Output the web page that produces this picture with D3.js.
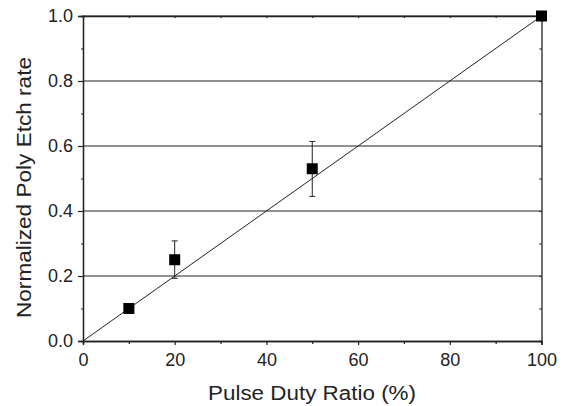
<!DOCTYPE html>
<html><head><meta charset="utf-8">
<script src="https://cdn.jsdelivr.net/npm/d3@7/dist/d3.min.js"></script>
<style>body{margin:0;background:#fff}svg{display:block}text{font-family:"Liberation Sans",Arial,sans-serif;fill:#222}</style>
</head><body><svg id="c" width="564" height="406"></svg>
<script>
const dutyRatio = [10, 20, 50, 100];
const etchRate = [0.10, 0.25, 0.53, 1.0];
const errLow = [null, 0.193, 0.445, null];
const errHigh = [null, 0.308, 0.614, null];
const xTicks = [0, 20, 40, 60, 80, 100];
const yTicks = [0.0, 0.2, 0.4, 0.6, 0.8, 1.0];
const fitLine = [[0, 0], [100, 1]];

const svg = d3.select("#c");
const L = 83, R = 541.5, T = 16, B = 341;
const x = d3.scaleLinear().domain([0, 100]).range([L, R]);
const y = d3.scaleLinear().domain([0, 1]).range([B, T]);
const ink = "#222";

// gridlines
svg.append("g").selectAll("line").data(yTicks.filter(d => d > 0)).join("line")
  .attr("x1", L).attr("x2", R).attr("y1", d => y(d)).attr("y2", d => y(d))
  .attr("stroke", ink).attr("stroke-width", 1);

// fit line
svg.append("path").datum(fitLine)
  .attr("d", d3.line().x(d => x(d[0])).y(d => y(d[1])))
  .attr("stroke", ink).attr("stroke-width", 1).attr("fill", "none");

// axes
const fmt = d3.format(".1f");
const gx = svg.append("g").attr("transform", `translate(0,${B})`)
  .call(d3.axisBottom(x).tickValues(xTicks).tickSize(4).tickPadding(8).tickFormat(d3.format("d")));
const gxm = svg.append("g").attr("transform", `translate(0,${B})`)
  .call(d3.axisBottom(x).tickValues(d3.range(10, 100, 20)).tickSize(3).tickFormat(""));
const gy = svg.append("g").attr("transform", `translate(${L},0)`)
  .call(d3.axisLeft(y).tickValues(yTicks).tickSize(5).tickPadding(5).tickFormat(fmt));
const gym = svg.append("g").attr("transform", `translate(${L},0)`)
  .call(d3.axisLeft(y).tickValues(d3.range(0.1, 1, 0.2)).tickSize(2).tickFormat(""));
const gt = svg.append("g").attr("transform", `translate(0,${T})`)
  .call(d3.axisTop(x).tickValues(d3.range(0, 101, 10)).tickSize(-2).tickFormat(""));
const gr = svg.append("g").attr("transform", `translate(${R},0)`)
  .call(d3.axisRight(y).tickValues(d3.range(0, 1.01, 0.1)).tickSize(-2).tickFormat(""));
[gx, gxm, gy, gym, gt, gr].forEach(g => {
  g.selectAll(".domain").attr("stroke", ink).attr("stroke-width", 1.3);
  g.selectAll(".tick line").attr("stroke", ink).attr("stroke-width", 1.2);
  g.selectAll("text").attr("font-size", 18)
    .attr("font-family", "Liberation Sans, Arial, sans-serif").attr("fill", ink);
});

// error bars
const pts = dutyRatio.map((d, i) => ({x: d, y: etchRate[i], lo: errLow[i], hi: errHigh[i]}));
const eb = svg.append("g").selectAll("g").data(pts.filter(p => p.lo !== null)).join("g");
eb.append("line").attr("x1", d => x(d.x)).attr("x2", d => x(d.x))
  .attr("y1", d => y(d.lo)).attr("y2", d => y(d.hi)).attr("stroke", ink);
eb.append("line").attr("x1", d => x(d.x) - 3).attr("x2", d => x(d.x) + 3)
  .attr("y1", d => y(d.hi)).attr("y2", d => y(d.hi)).attr("stroke", ink);
eb.append("line").attr("x1", d => x(d.x) - 3).attr("x2", d => x(d.x) + 3)
  .attr("y1", d => y(d.lo)).attr("y2", d => y(d.lo)).attr("stroke", ink);

// squares
const s = 11;
svg.append("g").selectAll("rect").data(pts).join("rect")
  .attr("x", d => x(d.x) - s / 2).attr("y", d => y(d.y) - s / 2)
  .attr("width", s).attr("height", s).attr("fill", "#000");

// titles
svg.append("text").attr("x", 312).attr("y", 400).attr("text-anchor", "middle")
  .attr("font-size", 20).attr("textLength", 208).attr("lengthAdjust", "spacingAndGlyphs")
  .text("Pulse Duty Ratio (%)");
svg.append("text").attr("transform", `translate(31,187.5) rotate(-90)`)
  .attr("text-anchor", "middle").attr("font-size", 20).attr("textLength", 261)
  .attr("lengthAdjust", "spacingAndGlyphs").text("Normalized Poly Etch rate");
</script></body></html>
